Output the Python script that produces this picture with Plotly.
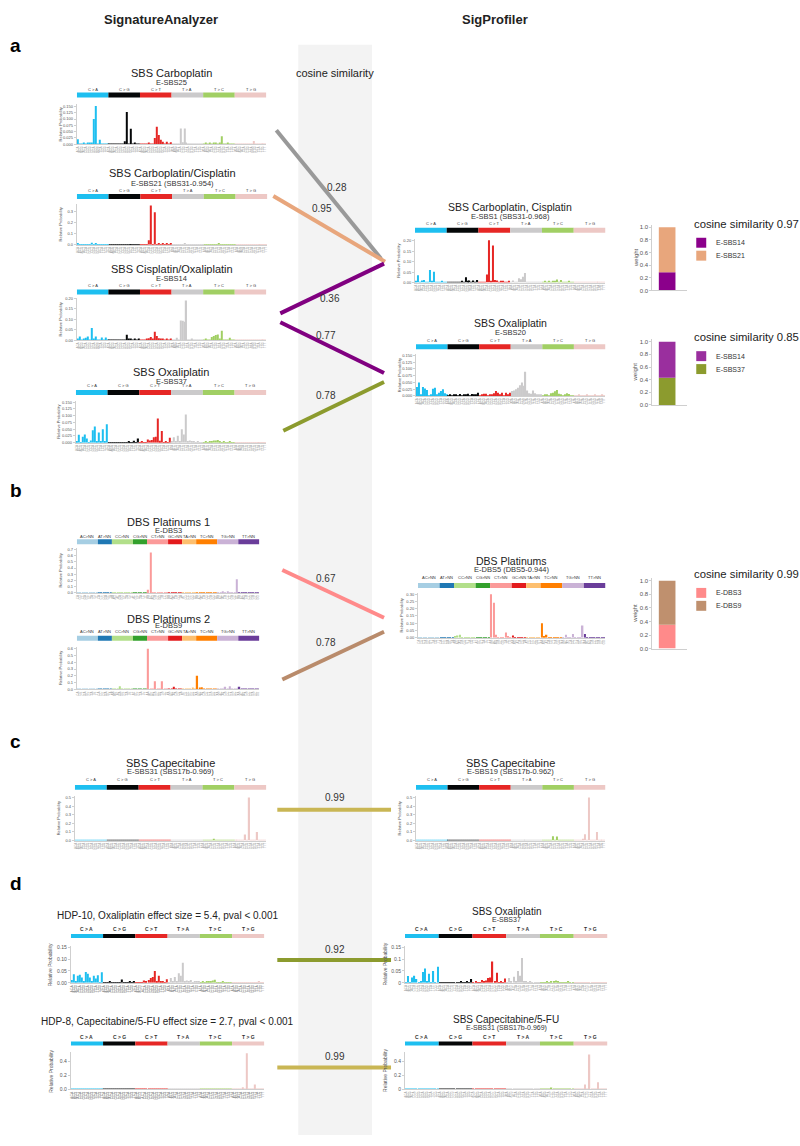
import plotly.graph_objects as go

W, H = 800, 1146
FONT = "Liberation Sans, Arial, Helvetica, sans-serif"

# ---------------- categories / tick labels ----------------
SBS_CATS = ["C > A", "C > G", "C > T", "T > A", "T > C", "T > G"]
SBS_SIZES = [16, 16, 16, 16, 16, 16]
SBS_COLORS = ["#1EBFF0", "#050708", "#E62725", "#CBCACB", "#A1CF64", "#EDC8C5"]
SBS_CONTEXTS = [f5 + ref + f3 for ref in "CCCTTT" for f5 in "ACGT" for f3 in "ACGT"]

DBS_CATS = ["AC>NN", "AT>NN", "CC>NN", "CG>NN", "CT>NN", "GC>NN", "TA>NN", "TC>NN", "TG>NN", "TT>NN"]
DBS_SIZES = [9, 6, 9, 6, 9, 6, 6, 9, 9, 9]
DBS_COLORS = ["#A6CEE3", "#1F78B4", "#B2DF8A", "#33A02C", "#FB9A99", "#E31A1C", "#FDBF6F", "#FF7F00", "#CAB2D6", "#6A3D9A"]
DBS_CONTEXTS = (["CA", "CG", "CT", "GA", "GC", "GT", "TA", "TG", "TT"] +
                ["CA", "CC", "CG", "GA", "GC", "TA"] +
                ["AA", "AG", "AT", "GA", "GG", "GT", "TA", "TG", "TT"] +
                ["AT", "GC", "GT", "TA", "TC", "TT"] +
                ["AA", "AC", "AG", "GA", "GC", "GG", "TA", "TC", "TG"] +
                ["AA", "AG", "AT", "CA", "CG", "TA"] +
                ["AT", "CG", "CC", "GC", "GG", "GT"] +
                ["AA", "AG", "AT", "CA", "CG", "CT", "GA", "GG", "GT"] +
                ["AA", "AC", "AT", "CA", "CC", "CT", "GA", "GC", "GT"] +
                ["AA", "AC", "AG", "CA", "CC", "CG", "GA", "GC", "GG"])

# ---------------- signature values ----------------
E_SBS25 = ([0.02, 0.003, 0.002, 0.004, 0.002, 0.005, 0.004, 0.006, 0.10, 0.152, 0.003, 0.018, 0.002, 0.002, 0.001, 0.002] +
           [0.001, 0.001, 0.001, 0.002, 0.001, 0.001, 0.002, 0.003, 0.012, 0.128, 0.002, 0.062, 0.002, 0.004, 0.001, 0.003] +
           [0.002, 0.001, 0.001, 0.002, 0.006, 0.002, 0.001, 0.025, 0.07, 0.037, 0.018, 0.01, 0.002, 0.01, 0.002, 0.008] +
           [0.002, 0.002, 0.003, 0.002, 0.063, 0.008, 0.063, 0.004, 0.002, 0.001, 0.002, 0.001, 0.001, 0.001, 0.001, 0.001] +
           [0.001, 0.005, 0.001, 0.004, 0.003, 0.005, 0.004, 0.002, 0.006, 0.032, 0.002, 0.001, 0.007, 0.002, 0.001, 0.001] +
           [0.001, 0.001, 0.002, 0.001, 0.001, 0.002, 0.001, 0.003, 0.001, 0.013, 0.001, 0.001, 0.002, 0.001, 0.001, 0.002])

E_SBS21 = ([0.012, 0.002, 0.004, 0.003, 0.002, 0.002, 0.003, 0.018, 0.004, 0.016, 0.002, 0.002, 0.001, 0.002, 0.001, 0.002] +
           [0.001, 0.001, 0.001, 0.001, 0.001, 0.002, 0.001, 0.001, 0.002, 0.006, 0.001, 0.001, 0.001, 0.002, 0.001, 0.001] +
           [0.003, 0.002, 0.002, 0.004, 0.04, 0.352, 0.005, 0.29, 0.004, 0.012, 0.002, 0.008, 0.002, 0.008, 0.002, 0.01] +
           [0.001, 0.002, 0.001, 0.002, 0.003, 0.004, 0.012, 0.002, 0.001, 0.001, 0.001, 0.001, 0.001, 0.001, 0.001, 0.001] +
           [0.001, 0.001, 0.001, 0.001, 0.001, 0.001, 0.001, 0.012, 0.001, 0.001, 0.001, 0.001, 0.001, 0.001, 0.001, 0.001] +
           [0.001, 0.001, 0.001, 0.001, 0.001, 0.001, 0.001, 0.001, 0.001, 0.001, 0.001, 0.001, 0.001, 0.001, 0.001, 0.001])

E_SBS14 = ([0.005, 0.018, 0.002, 0.004, 0.012, 0.018, 0.003, 0.058, 0.004, 0.018, 0.002, 0.003, 0.013, 0.002, 0.013, 0.002] +
           [0.001, 0.001, 0.002, 0.001, 0.001, 0.002, 0.001, 0.002, 0.003, 0.026, 0.008, 0.005, 0.002, 0.005, 0.001, 0.004] +
           [0.002, 0.003, 0.001, 0.005, 0.01, 0.015, 0.006, 0.04, 0.02, 0.01, 0.005, 0.008, 0.003, 0.008, 0.002, 0.005] +
           [0.003, 0.002, 0.012, 0.003, 0.095, 0.093, 0.088, 0.19, 0.003, 0.002, 0.005, 0.002, 0.001, 0.002, 0.001, 0.002] +
           [0.002, 0.008, 0.002, 0.003, 0.016, 0.02, 0.025, 0.028, 0.004, 0.045, 0.003, 0.002, 0.002, 0.012, 0.001, 0.002] +
           [0.001, 0.002, 0.001, 0.002, 0.001, 0.001, 0.002, 0.003, 0.001, 0.002, 0.001, 0.001, 0.002, 0.003, 0.001, 0.002])

E_SBS37 = ([0.003, 0.029, 0.002, 0.022, 0.03, 0.016, 0.002, 0.008, 0.046, 0.06, 0.004, 0.038, 0.003, 0.05, 0.003, 0.068] +
           [0.001, 0.001, 0.001, 0.002, 0.001, 0.001, 0.002, 0.001, 0.002, 0.001, 0.006, 0.001, 0.002, 0.007, 0.001, 0.016] +
           [0.002, 0.004, 0.001, 0.002, 0.012, 0.008, 0.01, 0.02, 0.022, 0.09, 0.007, 0.043, 0.002, 0.005, 0.002, 0.018] +
           [0.003, 0.02, 0.004, 0.026, 0.004, 0.05, 0.03, 0.105, 0.005, 0.008, 0.003, 0.004, 0.002, 0.003, 0.002, 0.002] +
           [0.002, 0.003, 0.002, 0.006, 0.003, 0.008, 0.008, 0.01, 0.004, 0.002, 0.003, 0.002, 0.002, 0.005, 0.002, 0.002] +
           [0.001, 0.002, 0.001, 0.001, 0.001, 0.002, 0.001, 0.002, 0.001, 0.001, 0.001, 0.001, 0.001, 0.002, 0.001, 0.002])

E_SBS1 = ([0.004, 0.035, 0.002, 0.01, 0.012, 0.002, 0.003, 0.06, 0.004, 0.052, 0.002, 0.003, 0.002, 0.008, 0.001, 0.002] +
          [0.002, 0.001, 0.002, 0.001, 0.002, 0.002, 0.003, 0.005, 0.003, 0.025, 0.004, 0.01, 0.002, 0.01, 0.002, 0.012] +
          [0.003, 0.002, 0.002, 0.003, 0.038, 0.203, 0.004, 0.178, 0.012, 0.01, 0.002, 0.004, 0.004, 0.003, 0.002, 0.008] +
          [0.003, 0.01, 0.002, 0.003, 0.02, 0.016, 0.028, 0.046, 0.003, 0.002, 0.002, 0.002, 0.002, 0.002, 0.001, 0.002] +
          [0.002, 0.006, 0.002, 0.006, 0.002, 0.007, 0.006, 0.015, 0.003, 0.012, 0.002, 0.002, 0.003, 0.006, 0.002, 0.002] +
          [0.001, 0.002, 0.001, 0.001, 0.001, 0.002, 0.001, 0.002, 0.001, 0.001, 0.001, 0.001, 0.001, 0.002, 0.001, 0.001])

E_SBS20 = ([0.033, 0.05, 0.005, 0.033, 0.028, 0.022, 0.002, 0.005, 0.027, 0.03, 0.003, 0.012, 0.018, 0.025, 0.01, 0.004] +
           [0.002, 0.006, 0.002, 0.003, 0.005, 0.002, 0.007, 0.002, 0.006, 0.003, 0.008, 0.002, 0.007, 0.003, 0.006, 0.012] +
           [0.002, 0.003, 0.008, 0.008, 0.002, 0.003, 0.005, 0.01, 0.018, 0.012, 0.003, 0.012, 0.002, 0.012, 0.003, 0.012] +
           [0.018, 0.02, 0.025, 0.03, 0.04, 0.05, 0.038, 0.09, 0.02, 0.01, 0.008, 0.02, 0.01, 0.005, 0.004, 0.003] +
           [0.002, 0.003, 0.005, 0.002, 0.01, 0.012, 0.017, 0.022, 0.008, 0.006, 0.002, 0.005, 0.01, 0.007, 0.002, 0.002] +
           [0.002, 0.001, 0.003, 0.001, 0.002, 0.001, 0.004, 0.001, 0.002, 0.001, 0.003, 0.001, 0.002, 0.001, 0.003, 0.002])

E_SBS31 = ([0.002, 0.001, 0.002, 0.001, 0.001, 0.002, 0.001, 0.003, 0.001, 0.002, 0.001, 0.001, 0.002, 0.001, 0.001, 0.002] +
           [0.001, 0.001, 0.001, 0.006, 0.002, 0.001, 0.001, 0.001, 0.001, 0.002, 0.001, 0.001, 0.001, 0.001, 0.008, 0.001] +
           [0.002, 0.003, 0.002, 0.003, 0.002, 0.003, 0.002, 0.002, 0.003, 0.002, 0.002, 0.003, 0.002, 0.002, 0.003, 0.002] +
           [0.001, 0.001, 0.001, 0.001, 0.001, 0.001, 0.001, 0.001, 0.005, 0.001, 0.005, 0.001, 0.001, 0.001, 0.001, 0.001] +
           [0.001, 0.002, 0.001, 0.003, 0.002, 0.02, 0.002, 0.006, 0.001, 0.003, 0.001, 0.002, 0.001, 0.001, 0.001, 0.001] +
           [0.001, 0.001, 0.002, 0.003, 0.005, 0.07, 0.004, 0.5, 0.002, 0.001, 0.002, 0.1, 0.001, 0.002, 0.001, 0.003])

E_SBS19 = ([0.002, 0.001, 0.002, 0.001, 0.002, 0.002, 0.001, 0.003, 0.001, 0.002, 0.001, 0.001, 0.002, 0.001, 0.001, 0.002] +
           [0.001, 0.001, 0.001, 0.004, 0.001, 0.001, 0.001, 0.001, 0.001, 0.001, 0.001, 0.001, 0.001, 0.001, 0.006, 0.001] +
           [0.002, 0.002, 0.001, 0.002, 0.002, 0.002, 0.001, 0.002, 0.002, 0.001, 0.002, 0.002, 0.002, 0.001, 0.002, 0.001] +
           [0.001, 0.001, 0.001, 0.001, 0.001, 0.001, 0.001, 0.001, 0.006, 0.001, 0.005, 0.001, 0.001, 0.001, 0.001, 0.001] +
           [0.002, 0.002, 0.001, 0.003, 0.002, 0.05, 0.004, 0.048, 0.001, 0.004, 0.001, 0.002, 0.001, 0.001, 0.001, 0.001] +
           [0.001, 0.002, 0.002, 0.003, 0.02, 0.075, 0.004, 0.5, 0.002, 0.003, 0.002, 0.1, 0.001, 0.002, 0.001, 0.003])

HDP_10 = ([0.012, 0.036, 0.004, 0.03, 0.034, 0.022, 0.004, 0.046, 0.038, 0.022, 0.004, 0.03, 0.018, 0.032, 0.003, 0.045] +
          [0.001, 0.002, 0.001, 0.004, 0.001, 0.002, 0.001, 0.002, 0.003, 0.014, 0.002, 0.002, 0.001, 0.004, 0.002, 0.005] +
          [0.002, 0.003, 0.001, 0.003, 0.01, 0.008, 0.012, 0.02, 0.025, 0.05, 0.008, 0.03, 0.004, 0.008, 0.003, 0.015] +
          [0.003, 0.02, 0.006, 0.025, 0.006, 0.04, 0.03, 0.085, 0.004, 0.01, 0.004, 0.012, 0.003, 0.008, 0.004, 0.005] +
          [0.002, 0.004, 0.003, 0.006, 0.004, 0.008, 0.01, 0.013, 0.003, 0.003, 0.002, 0.004, 0.002, 0.003, 0.002, 0.003] +
          [0.001, 0.002, 0.001, 0.002, 0.001, 0.002, 0.001, 0.002, 0.001, 0.001, 0.001, 0.001, 0.002, 0.005, 0.001, 0.002])

HDP_8 = ([0.002, 0.002, 0.001, 0.002, 0.001, 0.002, 0.002, 0.003, 0.002, 0.002, 0.001, 0.002, 0.002, 0.001, 0.001, 0.002] +
         [0.001, 0.001, 0.001, 0.001, 0.001, 0.001, 0.001, 0.002, 0.001, 0.001, 0.001, 0.001, 0.001, 0.001, 0.001, 0.003] +
         [0.002, 0.002, 0.002, 0.002, 0.002, 0.002, 0.002, 0.002, 0.002, 0.002, 0.002, 0.002, 0.002, 0.002, 0.002, 0.002] +
         [0.001, 0.001, 0.001, 0.001, 0.001, 0.002, 0.001, 0.002, 0.002, 0.001, 0.002, 0.001, 0.001, 0.001, 0.001, 0.001] +
         [0.001, 0.002, 0.001, 0.002, 0.002, 0.005, 0.002, 0.004, 0.001, 0.002, 0.001, 0.002, 0.001, 0.001, 0.001, 0.001] +
         [0.001, 0.002, 0.002, 0.003, 0.005, 0.03, 0.004, 0.52, 0.002, 0.002, 0.002, 0.07, 0.001, 0.002, 0.001, 0.004])

E_DBS3 = ([0.002, 0.001, 0.002, 0.001, 0.001, 0.002, 0.001, 0.002, 0.001] +
          [0.001, 0.002, 0.001, 0.001, 0.002, 0.001] +
          [0.002, 0.003, 0.002, 0.001, 0.002, 0.003, 0.002, 0.004, 0.002] +
          [0.002, 0.001, 0.002, 0.001, 0.003, 0.001] +
          [0.05, 0.65, 0.004, 0.002, 0.003, 0.002, 0.005, 0.003, 0.002] +
          [0.002, 0.001, 0.003, 0.001, 0.002, 0.001] +
          [0.001, 0.002, 0.001, 0.002, 0.001, 0.001] +
          [0.003, 0.002, 0.002, 0.001, 0.002, 0.003, 0.001, 0.002, 0.002] +
          [0.002, 0.003, 0.02, 0.002, 0.025, 0.003, 0.002, 0.004, 0.22] +
          [0.002, 0.001, 0.002, 0.003, 0.001, 0.002, 0.001, 0.002, 0.001])

E_DBS9 = ([0.002, 0.001, 0.002, 0.001, 0.001, 0.002, 0.001, 0.002, 0.001] +
          [0.001, 0.002, 0.001, 0.001, 0.002, 0.001] +
          [0.002, 0.003, 0.01, 0.045, 0.004, 0.006, 0.002, 0.01, 0.003] +
          [0.002, 0.001, 0.003, 0.001, 0.003, 0.001] +
          [0.6, 0.01, 0.003, 0.12, 0.004, 0.002, 0.12, 0.005, 0.003] +
          [0.003, 0.002, 0.04, 0.002, 0.003, 0.002] +
          [0.002, 0.003, 0.002, 0.006, 0.02, 0.002] +
          [0.2, 0.02, 0.03, 0.003, 0.002, 0.004, 0.002, 0.003, 0.002] +
          [0.003, 0.004, 0.003, 0.04, 0.01, 0.045, 0.003, 0.004, 0.008] +
          [0.04, 0.003, 0.002, 0.004, 0.002, 0.003, 0.002, 0.003, 0.002])

E_DBS5 = ([0.001, 0.001, 0.002, 0.001, 0.001, 0.001, 0.002, 0.001, 0.005] +
          [0.001, 0.001, 0.002, 0.001, 0.001, 0.001] +
          [0.01, 0.015, 0.02, 0.002, 0.002, 0.003, 0.002, 0.005, 0.002] +
          [0.001, 0.002, 0.004, 0.001, 0.002, 0.001] +
          [0.3, 0.242, 0.02, 0.003, 0.002, 0.002, 0.035, 0.01, 0.002] +
          [0.015, 0.004, 0.002, 0.002, 0.003, 0.002] +
          [0.001, 0.002, 0.001, 0.002, 0.001, 0.001] +
          [0.1, 0.012, 0.02, 0.002, 0.002, 0.002, 0.002, 0.002, 0.002] +
          [0.003, 0.02, 0.002, 0.003, 0.025, 0.003, 0.002, 0.003, 0.085] +
          [0.025, 0.003, 0.002, 0.002, 0.002, 0.002, 0.002, 0.002, 0.002])

# ---------------- y tick sets ----------------
T_0150_V = [0, 0.025, 0.05, 0.075, 0.1, 0.125, 0.15]
T_0150_T = ["0.000", "0.025", "0.050", "0.075", "0.100", "0.125", "0.150"]
T_03_V = [0, 0.1, 0.2, 0.3]
T_03_T = ["0.0", "0.1", "0.2", "0.3"]
T_020_V = [0, 0.05, 0.1, 0.15, 0.2]
T_020_T = ["0.00", "0.05", "0.10", "0.15", "0.20"]
T_07_V = [0, 0.1, 0.2, 0.3, 0.4, 0.5, 0.6, 0.7]
T_07_T = ["0.0", "0.1", "0.2", "0.3", "0.4", "0.5", "0.6", "0.7"]
T_06_V = [0, 0.1, 0.2, 0.3, 0.4, 0.5, 0.6]
T_06_T = ["0.0", "0.1", "0.2", "0.3", "0.4", "0.5", "0.6"]
T_030_V = [0, 0.05, 0.1, 0.15, 0.2, 0.25, 0.3]
T_030_T = ["0.00", "0.05", "0.10", "0.15", "0.20", "0.25", "0.30"]
T_05_V = [0, 0.1, 0.2, 0.3, 0.4, 0.5]
T_05_T = ["0.0", "0.1", "0.2", "0.3", "0.4", "0.5"]
T_D15_V = [0, 0.05, 0.1, 0.15]
T_D15_T = ["0.00", "0.05", "0.10", "0.15"]
T_D15B_T = ["0", "0.05", "0.1", "0.15"]
T_D4_V = [0, 0.2, 0.4]
T_D4_T = ["0.0", "0.2", "0.4"]
T_D4B_T = ["0", "0.2", "0.4"]
W_TICKS_V = [0, 0.2, 0.4, 0.6, 0.8, 1.0]
W_TICKS_T = ["0.0", "0.2", "0.4", "0.6", "0.8", "1.0"]

# ---------------- cosine similarities / weights ----------------
COS_A = [0.28, 0.95, 0.36, 0.77, 0.78]
COS_B = [0.67, 0.78]
COS_C = [0.99]
COS_D = [0.92, 0.99]
WEIGHT_1 = [0.29, 0.71]   # E-SBS14, E-SBS21 (bottom to top)
WEIGHT_2 = [0.43, 0.57]   # E-SBS37, E-SBS14
WEIGHT_3 = [0.35, 0.65]   # E-DBS3, E-DBS9

# ---------------- helpers ----------------
fig = go.Figure()
shapes = []
annotations = []
axes = {}
counter = [0]


def px(x):
    return x / W


def py(y):
    return 1 - y / H


def text(x, y, s, size, color="#222", bold=False, xanchor="center", angle=0, xref="paper"):
    if bold:
        s = "<b>" + s + "</b>"
    annotations.append(dict(x=px(x) if xref == "paper" else x, y=py(y), xref=xref, yref="paper",
                            text=s, showarrow=False, xanchor=xanchor, yanchor="middle",
                            textangle=angle, font=dict(family=FONT, size=size, color=color)))


def axis_names():
    counter[0] += 1
    n = counter[0]
    suf = "" if n == 1 else str(n)
    return "x" + suf, "y" + suf, "xaxis" + suf, "yaxis" + suf


def signature(values, kind, x0, x1, band, plot, yr, ytv, ytt, title, title_y, sub=None, sub_y=None,
              cat_y=None, title_size=11, sub_size=7.5, cat_size=4, tick_size=4, ylab_size=4,
              xlab_size=3, xlab_color="#aaaaaa", cat_bold=False):
    xa, ya, xk, yk = axis_names()
    if kind == "SBS":
        cats, sizes, cols, ctx = SBS_CATS, SBS_SIZES, SBS_COLORS, SBS_CONTEXTS
    else:
        cats, sizes, cols, ctx = DBS_CATS, DBS_SIZES, DBS_COLORS, DBS_CONTEXTS
    bar_cols = []
    for c, s in zip(cols, sizes):
        bar_cols += [c] * s
    n = len(values)
    fig.add_trace(go.Bar(x=list(range(n)), y=values, width=0.6, xaxis=xa, yaxis=ya,
                         marker=dict(color=bar_cols, line=dict(width=0)),
                         showlegend=False, hoverinfo="skip"))
    axes[xk] = dict(domain=[px(x0), px(x1)], anchor=ya, range=[-0.5, n - 0.5],
                    tickmode="array", tickvals=list(range(n)), ticktext=ctx, tickangle=-90,
                    tickfont=dict(family=FONT, size=xlab_size, color=xlab_color), ticks="",
                    showline=True, linecolor="#cfcfcf", linewidth=1, showgrid=False,
                    zeroline=False, fixedrange=True)
    axes[yk] = dict(domain=[py(plot[1]), py(plot[0])], anchor=xa, range=yr,
                    tickmode="array", tickvals=ytv, ticktext=ytt,
                    tickfont=dict(family=FONT, size=tick_size, color="#555555"),
                    ticks="outside", ticklen=2, tickcolor="#cfcfcf", showline=True,
                    linecolor="#cfcfcf", linewidth=1, showgrid=False, zeroline=False,
                    fixedrange=True)
    start = 0
    for c, s, col in zip(cats, sizes, cols):
        shapes.append(dict(type="rect", xref=xa, yref="paper", x0=start - 0.5, x1=start + s - 0.5,
                           y0=py(band[1]), y1=py(band[0]), fillcolor=col, line=dict(width=0)))
        lab = "<b>" + c + "</b>" if cat_bold else c
        annotations.append(dict(x=start + s / 2 - 0.5, y=py(cat_y), xref=xa, yref="paper",
                                text=lab, showarrow=False, xanchor="center", yanchor="middle",
                                font=dict(family=FONT, size=cat_size, color="#333333")))
        start += s
    cx = (x0 + x1) / 2
    text(cx, title_y, title, title_size)
    if sub:
        text(cx, sub_y, sub, sub_size, color="#333333")
    text(x0 - 4 - tick_size * 3.2, (plot[0] + plot[1]) / 2, "Relative Probability", ylab_size,
         color="#555555", angle=-90)


def weights(parts, cols, legend_idx, names, x0, x1, top, bot, title, title_y):
    xa, ya, xk, yk = axis_names()
    base = 0
    for v, c in zip(parts, cols):
        fig.add_trace(go.Bar(x=[0], y=[v], base=[base], width=0.62, xaxis=xa, yaxis=ya,
                             marker=dict(color=c, line=dict(width=0)), showlegend=False,
                             hoverinfo="skip"))
        base += v
    axes[xk] = dict(domain=[px(x0), px(x1)], anchor=ya, range=[-0.55, 0.75], showticklabels=False,
                    ticks="", showline=True, linecolor="#cfcfcf", showgrid=False, zeroline=False,
                    fixedrange=True)
    axes[yk] = dict(domain=[py(bot), py(top)], anchor=xa, range=[0, 1.04], tickmode="array",
                    tickvals=W_TICKS_V, ticktext=W_TICKS_T,
                    tickfont=dict(family=FONT, size=6, color="#555555"), ticks="outside",
                    ticklen=2, tickcolor="#cfcfcf", showline=True, linecolor="#cfcfcf",
                    showgrid=False, zeroline=False, fixedrange=True)
    text(x0 - 17, (top + bot) / 2, "weight", 6, color="#555555", angle=-90)
    text(693, title_y, title, 11.3, color="#222222", xanchor="left")
    for i, k in enumerate(legend_idx):
        yy = title_y + 19 + 13 * i
        shapes.append(dict(type="rect", xref="paper", yref="paper", x0=px(697), x1=px(707),
                           y0=py(yy + 5), y1=py(yy - 5), fillcolor=cols[k], line=dict(width=0)))
        text(715, yy, names[k], 7, color="#333333", xanchor="left")


def link(val, color, xa0, ya0, xa1, ya1, lx, ly):
    shapes.append(dict(type="line", xref="paper", yref="paper", x0=px(xa0), y0=py(ya0),
                       x1=px(xa1), y1=py(ya1), line=dict(color=color, width=4)))
    text(lx, ly, f"{val:.2f}", 10, color="#333333")


# ---------------- background band & headers ----------------
shapes.append(dict(type="rect", xref="paper", yref="paper", x0=px(298), x1=px(372),
                   y0=py(1138), y1=py(42), fillcolor="#f3f3f3", line=dict(width=0), layer="below"))
text(160, 17, "SignatureAnalyzer", 13, bold=True)
text(495, 17, "SigProfiler", 13, bold=True)
text(15, 43, "a", 19, bold=True, color="#000000")
text(15, 490, "b", 19, bold=True, color="#000000")
text(15, 742, "c", 19, bold=True, color="#000000")
text(15, 885, "d", 19, bold=True, color="#000000")
text(335, 70, "cosine similarity", 11)

# ---------------- panel a ----------------
signature(E_SBS25, "SBS", 76, 266, (90, 95), (102, 142), [0, 0.158], T_0150_V, T_0150_T,
          "SBS Carboplatin", 70, "E-SBS25", 80, 87)
signature(E_SBS21, "SBS", 76, 267, (192, 197), (202, 243), [0, 0.365], T_03_V, T_03_T,
          "SBS Carboplatin/Cisplatin", 171, "E-SBS21 (SBS31-0.954)", 181, 188)
signature(E_SBS14, "SBS", 76, 266, (288, 293), (297, 339), [0, 0.2], T_020_V, T_020_T,
          "SBS Cisplatin/Oxaliplatin", 267, "E-SBS14", 277, 284)
signature(E_SBS37, "SBS", 75, 266, (389, 394), (400, 442), [0, 0.155], T_0150_V, T_0150_T,
          "SBS Oxaliplatin", 371, "E-SBS37", 380, 385)
signature(E_SBS1, "SBS", 415, 606, (226, 231), (237, 281), [0, 0.21], T_020_V, T_020_T,
          "SBS Carboplatin, Cisplatin", 205, "E-SBS1 (SBS31-0.968)", 215, 222, title_size=10.5)
signature(E_SBS20, "SBS", 416, 606, (343, 348), (353, 395), [0, 0.155], T_0150_V, T_0150_T,
          "SBS Oxaliplatin", 322, "E-SBS20", 331, 339, title_size=10.5)
weights(WEIGHT_1, ["#8B008B", "#E8A67C"], [0, 1], ["E-SBS14", "E-SBS21"], 653, 688, 223, 289,
        "cosine similarity 0.97", 222)
weights(WEIGHT_2, ["#8C9B2E", "#9A2F9E"], [1, 0], ["E-SBS37", "E-SBS14"], 653, 688, 338, 404,
        "cosine similarity 0.85", 336)

link(COS_A[0], "#999999", 276, 128, 381, 257, 337, 185)
link(COS_A[1], "#E8A67C", 273, 194, 385, 260, 322, 207)
link(COS_A[2], "#800080", 280, 312, 384, 262, 330, 297)
link(COS_A[3], "#800080", 280, 321, 384, 372, 326, 334)
link(COS_A[4], "#8C9B2E", 283, 430, 384, 381, 326, 395)

# ---------------- panel b ----------------
signature(E_DBS3, "DBS", 76, 259, (539, 544), (548, 593), [0, 0.72], T_07_V, T_07_T,
          "DBS Platinums 1", 522, "E-DBS3", 530, 536)
signature(E_DBS9, "DBS", 76, 259, (636, 641), (647, 690), [0, 0.63], T_06_V, T_06_T,
          "DBS Platinums 2", 619, "E-DBS9", 626, 632)
signature(E_DBS5, "DBS", 418, 606, (583, 588), (593, 638), [0, 0.31], T_030_V, T_030_T,
          "DBS Platinums", 561, "E-DBS5 (DBS5-0.944)", 569, 578, title_size=10.5)
weights(WEIGHT_3, ["#FF8A8A", "#BF906E"], [0, 1], ["E-DBS3", "E-DBS9"], 653, 688, 578, 649,
        "cosine similarity 0.99", 574)
link(COS_B[0], "#FF8A8A", 282, 570, 384, 618, 326, 579)
link(COS_B[1], "#B98B6B", 282, 680, 384, 632, 326, 643)

# ---------------- panel c ----------------
signature(E_SBS31, "SBS", 74, 266, (786, 791), (797, 842), [0, 0.52], T_05_V, T_05_T,
          "SBS Capecitabine", 764, "E-SBS31 (SBS17b-0.969)", 773, 781)
signature(E_SBS19, "SBS", 416, 606, (786, 791), (797, 842), [0, 0.52], T_05_V, T_05_T,
          "SBS Capecitabine", 764, "E-SBS19 (SBS17b-0.962)", 773, 781)
link(COS_C[0], "#C9B654", 277, 811, 391, 811, 335, 799)

# ---------------- panel d ----------------
signature(HDP_10, "SBS", 70, 264, (936, 940), (948, 985), [0, 0.155], T_D15_V, T_D15_T,
          "HDP-10, Oxaliplatin effect size = 5.4, pval < 0.001", 917, cat_y=931,
          title_size=10, cat_size=5, tick_size=5, ylab_size=5, xlab_size=3.5,
          xlab_color="#888888", cat_bold=True)
signature(E_SBS37, "SBS", 405, 608, (936, 940), (948, 985), [0, 0.155], T_D15_V, T_D15B_T,
          "SBS Oxaliplatin", 913, "E-SBS37", 921, 931, title_size=10, sub_size=7,
          cat_size=5, tick_size=5, ylab_size=5, cat_bold=True)
signature(HDP_8, "SBS", 70, 264, (1044, 1048), (1055, 1092), [0, 0.53], T_D4_V, T_D4_T,
          "HDP-8, Capecitabine/5-FU effect size = 2.7, pval < 0.001", 1024, cat_y=1039,
          title_size=10, cat_size=5, tick_size=5, ylab_size=5, xlab_size=3.5,
          xlab_color="#888888", cat_bold=True)
signature(E_SBS31, "SBS", 405, 608, (1044, 1048), (1055, 1092), [0, 0.53], T_D4_V, T_D4B_T,
          "SBS Capecitabine/5-FU", 1022, "E-SBS31 (SBS17b-0.969)", 1030, 1039, title_size=10,
          sub_size=7, cat_size=5, tick_size=5, ylab_size=5, cat_bold=True)
link(COS_D[0], "#8C9B2E", 277, 962, 391, 962, 335, 951)
link(COS_D[1], "#C9B654", 277, 1070, 391, 1070, 335, 1059)

fig.update_layout(width=W, height=H, margin=dict(l=0, r=0, t=0, b=0),
                  paper_bgcolor="white", plot_bgcolor="rgba(0,0,0,0)", barmode="overlay",
                  showlegend=False, shapes=shapes, annotations=annotations,
                  font=dict(family=FONT), **axes)
fig.write_html("out.html", config={"displayModeBar": False},
               post_script="document.body.style.margin='0px';")
